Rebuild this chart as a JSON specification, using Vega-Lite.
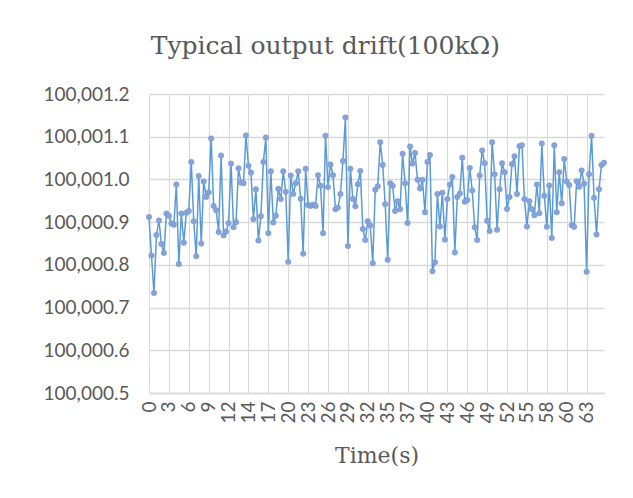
{
  "$schema": "https://vega.github.io/schema/vega-lite/v6.json",
  "width": 455,
  "height": 299,
  "autosize": {"type": "none"},
  "padding": {"left": 149, "top": 94, "right": 29, "bottom": 105},
  "background": "white",
  "title": {
    "text": "Typical output drift(100kΩ)",
    "font": "DejaVu Serif",
    "fontSize": 25,
    "fontWeight": "normal",
    "color": "#595959",
    "anchor": "middle",
    "frame": "bounds",
    "offset": 26
  },
  "data": {
    "values": [
      {"n":0,"v":100000.912},{"n":1,"v":100000.822},{"n":2,"v":100000.734},{"n":3,"v":100000.870},{"n":4,"v":100000.904},
      {"n":5,"v":100000.849},{"n":6,"v":100000.828},{"n":7,"v":100000.920},{"n":8,"v":100000.915},{"n":9,"v":100000.897},
      {"n":10,"v":100000.894},{"n":11,"v":100000.988},{"n":12,"v":100000.802},{"n":13,"v":100000.920},{"n":14,"v":100000.852},
      {"n":15,"v":100000.922},{"n":16,"v":100000.926},{"n":17,"v":100001.041},{"n":18,"v":100000.902},{"n":19,"v":100000.820},
      {"n":20,"v":100001.008},{"n":21,"v":100000.850},{"n":22,"v":100000.995},{"n":23,"v":100000.959},{"n":24,"v":100000.970},
      {"n":25,"v":100001.096},{"n":26,"v":100000.938},{"n":27,"v":100000.928},{"n":28,"v":100000.877},{"n":29,"v":100001.056},
      {"n":30,"v":100000.869},{"n":31,"v":100000.878},{"n":32,"v":100000.898},{"n":33,"v":100001.037},{"n":34,"v":100000.888},
      {"n":35,"v":100000.900},{"n":36,"v":100001.026},{"n":37,"v":100000.993},{"n":38,"v":100000.991},{"n":39,"v":100001.103},
      {"n":40,"v":100001.032},{"n":41,"v":100001.016},{"n":42,"v":100000.907},{"n":43,"v":100000.977},{"n":44,"v":100000.857},
      {"n":45,"v":100000.914},{"n":46,"v":100001.041},{"n":47,"v":100001.098},{"n":48,"v":100000.874},{"n":49,"v":100001.019},
      {"n":50,"v":100000.899},{"n":51,"v":100000.915},{"n":52,"v":100000.978},{"n":53,"v":100000.954},{"n":54,"v":100001.019},
      {"n":55,"v":100000.971},{"n":56,"v":100000.807},{"n":57,"v":100001.009},{"n":58,"v":100000.966},{"n":59,"v":100000.991},
      {"n":60,"v":100001.019},{"n":61,"v":100000.955},{"n":62,"v":100000.826},{"n":63,"v":100001.025},{"n":64,"v":100000.940},
      {"n":65,"v":100000.938},{"n":66,"v":100000.941},{"n":67,"v":100000.938},{"n":68,"v":100001.010},{"n":69,"v":100000.985},
      {"n":70,"v":100000.874},{"n":71,"v":100001.102},{"n":72,"v":100000.982},{"n":73,"v":100001.035},{"n":74,"v":100001.010},
      {"n":75,"v":100000.930},{"n":76,"v":100000.934},{"n":77,"v":100000.966},{"n":78,"v":100001.043},{"n":79,"v":100001.145},
      {"n":80,"v":100000.844},{"n":81,"v":100001.025},{"n":82,"v":100000.954},{"n":83,"v":100000.937},{"n":84,"v":100000.989},
      {"n":85,"v":100001.020},{"n":86,"v":100000.884},{"n":87,"v":100000.858},{"n":88,"v":100000.902},{"n":89,"v":100000.892},
      {"n":90,"v":100000.804},{"n":91,"v":100000.976},{"n":92,"v":100000.984},{"n":93,"v":100001.087},{"n":94,"v":100001.034},
      {"n":95,"v":100000.942},{"n":96,"v":100000.812},{"n":97,"v":100000.991},{"n":98,"v":100000.985},{"n":99,"v":100000.926},
      {"n":100,"v":100000.949},{"n":101,"v":100000.930},{"n":102,"v":100001.060},{"n":103,"v":100000.991},{"n":104,"v":100000.898},
      {"n":105,"v":100001.077},{"n":106,"v":100001.037},{"n":107,"v":100001.062},{"n":108,"v":100000.999},{"n":109,"v":100000.979},
      {"n":110,"v":100000.999},{"n":111,"v":100000.923},{"n":112,"v":100001.041},{"n":113,"v":100001.057},{"n":114,"v":100000.785},
      {"n":115,"v":100000.806},{"n":116,"v":100000.966},{"n":117,"v":100000.890},{"n":118,"v":100000.969},{"n":119,"v":100000.859},
      {"n":120,"v":100000.954},{"n":121,"v":100000.988},{"n":122,"v":100001.006},{"n":123,"v":100000.829},{"n":124,"v":100000.959},
      {"n":125,"v":100000.967},{"n":126,"v":100001.051},{"n":127,"v":100000.948},{"n":128,"v":100000.952},{"n":129,"v":100001.027},
      {"n":130,"v":100000.974},{"n":131,"v":100000.888},{"n":132,"v":100000.858},{"n":133,"v":100001.009},{"n":134,"v":100001.068},
      {"n":135,"v":100001.038},{"n":136,"v":100000.903},{"n":137,"v":100000.879},{"n":138,"v":100001.087},{"n":139,"v":100001.012},
      {"n":140,"v":100000.882},{"n":141,"v":100000.977},{"n":142,"v":100001.038},{"n":143,"v":100001.017},{"n":144,"v":100000.931},
      {"n":145,"v":100000.959},{"n":146,"v":100001.036},{"n":147,"v":100001.054},{"n":148,"v":100000.966},{"n":149,"v":100001.078},
      {"n":150,"v":100001.080},{"n":151,"v":100000.954},{"n":152,"v":100000.890},{"n":153,"v":100000.949},{"n":154,"v":100000.930},
      {"n":155,"v":100000.916},{"n":156,"v":100000.988},{"n":157,"v":100000.921},{"n":158,"v":100001.084},{"n":159,"v":100000.962},
      {"n":160,"v":100000.889},{"n":161,"v":100000.986},{"n":162,"v":100000.863},{"n":163,"v":100001.080},{"n":164,"v":100000.923},
      {"n":165,"v":100001.017},{"n":166,"v":100000.944},{"n":167,"v":100001.048},{"n":168,"v":100000.995},{"n":169,"v":100000.987},
      {"n":170,"v":100000.893},{"n":171,"v":100000.889},{"n":172,"v":100000.996},{"n":173,"v":100000.983},{"n":174,"v":100001.021},
      {"n":175,"v":100000.990},{"n":176,"v":100000.784},{"n":177,"v":100001.012},{"n":178,"v":100001.102},{"n":179,"v":100000.957},
      {"n":180,"v":100000.871},{"n":181,"v":100000.977},{"n":182,"v":100001.034},{"n":183,"v":100001.039}
    ]
  },
  "encoding": {
    "x": {
      "field": "n",
      "type": "quantitative",
      "scale": {"domain": [0, 183], "nice": false, "zero": false},
      "axis": {
        "values": [0,8,16,24,32,40,48,56,64,72,80,88,96,104,112,120,128,136,144,152,160,168,176],
        "labelExpr": "format(datum.value * 0.36, '.0f')",
        "labelAngle": -90,
        "labelFont": "Lato",
        "labelFontSize": 19,
        "labelColor": "#595959",
        "labelPadding": 8,
        "labelOverlap": false,
        "ticks": false,
        "domain": true,
        "domainColor": "#D9D9D9",
        "domainWidth": 1.5,
        "grid": true,
        "gridColor": "#D9D9D9",
        "gridWidth": 1,
        "title": "Time(s)",
        "titleFont": "DejaVu Serif",
        "titleFontSize": 22,
        "titleFontWeight": "normal",
        "titleColor": "#595959",
        "titlePadding": 22
      }
    },
    "y": {
      "field": "v",
      "type": "quantitative",
      "scale": {"domain": [100000.5, 100001.2], "nice": false, "zero": false},
      "axis": {
        "values": [100000.5,100000.6,100000.7,100000.8,100000.9,100001.0,100001.1,100001.2],
        "format": ",.1f",
        "labelFont": "Lato",
        "labelFontSize": 19,
        "labelColor": "#595959",
        "labelPadding": 20,
        "ticks": false,
        "domain": false,
        "grid": true,
        "gridColor": "#D9D9D9",
        "gridWidth": 1.5,
        "title": null
      }
    }
  },
  "layer": [
    {"mark": {"type": "line", "color": "#5B9BD5", "strokeWidth": 1.5}},
    {"mark": {"type": "point", "filled": true, "fill": "#86A4D9", "stroke": "#6F92CF", "strokeWidth": 0.5, "size": 30, "opacity": 1}}
  ],
  "config": {"view": {"stroke": null}}
}
